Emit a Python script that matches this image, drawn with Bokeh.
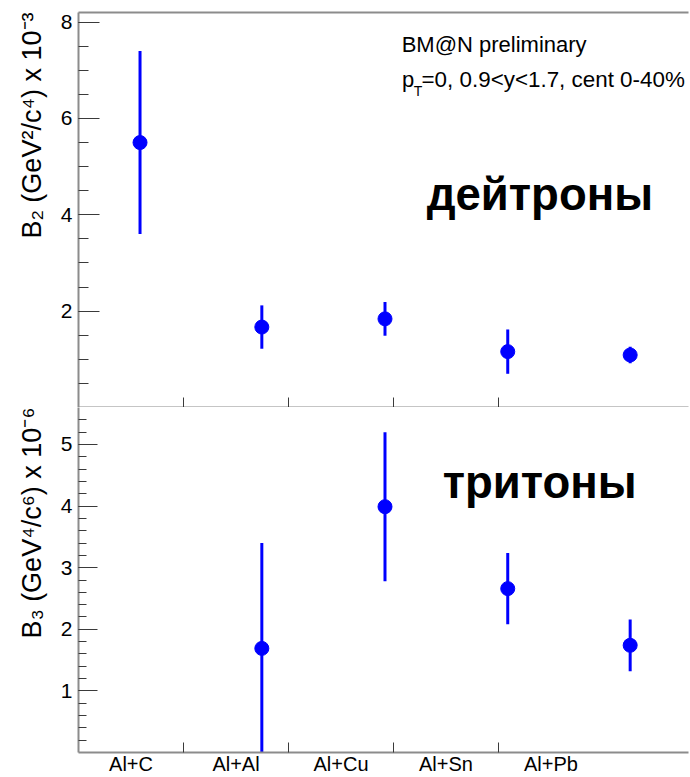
import math
from bokeh.plotting import figure
from bokeh.layouts import column
from bokeh.models import Range1d, FixedTicker, LinearAxis, Label, Title, ColumnDataSource
from bokeh.embed import file_html
from bokeh.resources import INLINE

# ---------------- data ----------------
systems = ["Al+C", "Al+Al", "Al+Cu", "Al+Sn", "Al+Pb"]
label_pos = [0.5, 1.5, 2.5, 3.5, 4.5]
bin_edges = [1, 2, 3, 4]
point_x = [0.586, 1.746, 2.919, 4.088, 5.254]

b2 = [5.50, 1.67, 1.84, 1.16, 1.09]          # x 10^-3 GeV^2/c^4
b2_err = [1.90, 0.45, 0.35, 0.46, 0.17]

b3_x = [1.746, 2.919, 4.088, 5.254]
b3 = [1.69, 3.99, 2.66, 1.74]                 # x 10^-6 GeV^4/c^6
b3_err = [1.71, 1.21, 0.58, 0.42]

top_major = [2, 4, 6, 8]
top_minor = [0.5, 1, 1.5, 2, 2.5, 3, 3.5, 4, 4.5, 5, 5.5, 6, 6.5, 7, 7.5, 8]
bot_major = [1, 2, 3, 4, 5]
bot_minor = [0.2, 0.4, 0.6, 0.8, 1.0, 1.2, 1.4, 1.6, 1.8, 2.0, 2.2, 2.4, 2.6, 2.8,
             3.0, 3.2, 3.4, 3.6, 3.8, 4.0, 4.2, 4.4, 4.6, 4.8, 5.0, 5.2, 5.4]

# ---------------- style ----------------
FONT = "Liberation Sans"
BLUE = "#0000ff"
AXIS_COL = "#8c8c8c"
TICK_COL = "#3a3a3a"
W = 690
H1 = 407
H2 = 777 - H1
RB = 2
XMAX = (690 - 78 - RB) / 105.0


def base_fig(height, yr):
    p = figure(width=W, height=height, x_range=Range1d(0, XMAX), y_range=yr,
               output_backend="svg", toolbar_location=None,
               x_axis_location=None, y_axis_location=None)
    p.outline_line_color = None
    p.xgrid.visible = False
    p.ygrid.visible = False
    p.min_border_left = 78
    p.min_border_right = RB
    p.background_fill_color = "white"
    p.border_fill_color = "white"
    return p


def style_axis(ax):
    ax.axis_line_color = AXIS_COL
    ax.axis_line_width = 2
    ax.major_tick_line_color = TICK_COL
    ax.minor_tick_line_color = TICK_COL
    ax.major_label_text_font = FONT
    ax.major_label_text_color = "black"


def y_title(text):
    return Title(text=text, align="right", standoff=22, offset=0,
                 text_font=FONT, text_font_size="27px", text_font_style="normal",
                 text_color="black")


# ---------------- top panel ----------------
p1 = base_fig(H1, Range1d(0, 8.2))
p1.min_border_top = 12
p1.min_border_bottom = 0

ya1 = LinearAxis(ticker=FixedTicker(ticks=top_major, minor_ticks=top_minor))
style_axis(ya1)
ya1.major_tick_in = 21
ya1.major_tick_out = 0
ya1.minor_tick_in = 10
ya1.minor_tick_out = 0
ya1.major_label_text_font_size = "21px"
ya1.major_label_standoff = 6
p1.add_layout(ya1, "left")
p1.add_layout(y_title("B₂ (GeV²/c⁴) x 10⁻³"), "left")

top_line = LinearAxis(ticker=FixedTicker(ticks=[], minor_ticks=[]))
style_axis(top_line)
top_line.major_tick_in = 0
top_line.major_tick_out = 0
top_line.minor_tick_in = 0
top_line.minor_tick_out = 0
top_line.major_label_standoff = 0
p1.add_layout(top_line, "above")

xa1 = LinearAxis(ticker=FixedTicker(ticks=[], minor_ticks=bin_edges))
style_axis(xa1)
xa1.major_tick_in = 0
xa1.major_tick_out = 0
xa1.minor_tick_in = 10
xa1.minor_tick_out = 0
xa1.major_label_standoff = 0
p1.add_layout(xa1, "below")

src1 = ColumnDataSource(dict(x=point_x, y=b2,
                             lo=[v - e for v, e in zip(b2, b2_err)],
                             hi=[v + e for v, e in zip(b2, b2_err)]))
p1.segment(x0="x", y0="lo", x1="x", y1="hi", source=src1, line_color=BLUE, line_width=3)
p1.scatter(x="x", y="y", source=src1, size=14, fill_color=BLUE, line_color=BLUE)

p1.add_layout(Label(x=3.078, y=7.53, text="BM@N preliminary",
                    text_font=FONT, text_font_size="22px", text_color="black",
                    text_baseline="alphabetic"))
p1.add_layout(Label(x=3.081, y=6.81, text="p",
                    text_font=FONT, text_font_size="22px", text_color="black",
                    text_baseline="alphabetic"))
p1.add_layout(Label(x=3.192, y=6.58, text="T",
                    text_font=FONT, text_font_size="14px", text_color="black",
                    text_baseline="alphabetic"))
p1.add_layout(Label(x=3.267, y=6.81, text="=0, 0.9<y<1.7, cent 0-40%",
                    text_font=FONT, text_font_size="22.4px", text_color="black",
                    text_baseline="alphabetic"))
p1.add_layout(Label(x=3.316, y=4.42, text="дейтроны",
                    text_font=FONT, text_font_size="45.5px", text_font_style="bold",
                    text_color="black", text_baseline="alphabetic"))

# ---------------- bottom panel ----------------
p2 = base_fig(H2, Range1d(0, 5.6))
p2.min_border_top = 0
p2.min_border_bottom = 24

ya2 = LinearAxis(ticker=FixedTicker(ticks=bot_major, minor_ticks=bot_minor))
style_axis(ya2)
ya2.major_tick_in = 19
ya2.major_tick_out = 0
ya2.minor_tick_in = 8
ya2.minor_tick_out = 0
ya2.major_label_text_font_size = "21px"
ya2.major_label_standoff = 6
p2.add_layout(ya2, "left")
p2.add_layout(y_title("B₃ (GeV⁴/c⁶) x 10⁻⁶"), "left")

xa2 = LinearAxis(ticker=FixedTicker(ticks=label_pos, minor_ticks=bin_edges),
                 major_label_overrides={lp: s for lp, s in zip(label_pos, systems)})
style_axis(xa2)
xa2.major_tick_in = 0
xa2.major_tick_out = 0
xa2.minor_tick_in = 10
xa2.minor_tick_out = 0
xa2.major_label_text_font_size = "20px"
xa2.major_label_standoff = 0
p2.add_layout(xa2, "below")

src2 = ColumnDataSource(dict(x=b3_x, y=b3,
                             lo=[v - e for v, e in zip(b3, b3_err)],
                             hi=[v + e for v, e in zip(b3, b3_err)]))
p2.segment(x0="x", y0="lo", x1="x", y1="hi", source=src2, line_color=BLUE, line_width=3)
p2.scatter(x="x", y="y", source=src2, size=14, fill_color=BLUE, line_color=BLUE)

p2.add_layout(Label(x=3.469, y=4.38, text="тритоны",
                    text_font=FONT, text_font_size="45.5px", text_font_style="bold",
                    text_color="black", text_baseline="alphabetic"))

layout = column(p1, p2, spacing=0)
open("out.html", "w").write(file_html(layout, INLINE))
